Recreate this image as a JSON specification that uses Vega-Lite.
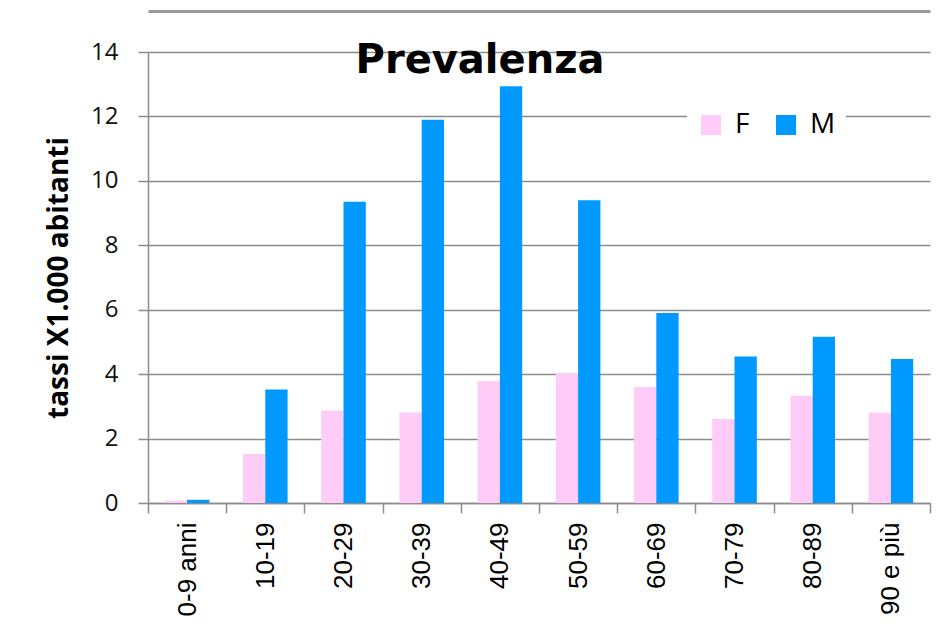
{
  "$schema": "https://vega.github.io/schema/vega-lite/v6.json",
  "autosize": {"type": "none"},
  "width": 782,
  "height": 451,
  "padding": {"left": 148, "top": 52, "right": 16, "bottom": 129},
  "background": "white",
  "title": {
    "text": "Prevalenza",
    "font": "DejaVu Sans",
    "fontSize": 40,
    "fontWeight": "bold",
    "color": "#000000",
    "anchor": "middle",
    "baseline": "alphabetic",
    "dx": -59,
    "dy": 45,
    "offset": -104
  },
  "data": {
    "values": [
      {"eta": "0-9 anni", "sesso": "F", "valore": 0.07},
      {"eta": "0-9 anni", "sesso": "M", "valore": 0.1},
      {"eta": "10-19", "sesso": "F", "valore": 1.52},
      {"eta": "10-19", "sesso": "M", "valore": 3.52},
      {"eta": "20-29", "sesso": "F", "valore": 2.87},
      {"eta": "20-29", "sesso": "M", "valore": 9.35},
      {"eta": "30-39", "sesso": "F", "valore": 2.81},
      {"eta": "30-39", "sesso": "M", "valore": 11.9},
      {"eta": "40-49", "sesso": "F", "valore": 3.78},
      {"eta": "40-49", "sesso": "M", "valore": 12.94},
      {"eta": "50-59", "sesso": "F", "valore": 4.03},
      {"eta": "50-59", "sesso": "M", "valore": 9.4},
      {"eta": "60-69", "sesso": "F", "valore": 3.6},
      {"eta": "60-69", "sesso": "M", "valore": 5.9},
      {"eta": "70-79", "sesso": "F", "valore": 2.61},
      {"eta": "70-79", "sesso": "M", "valore": 4.55},
      {"eta": "80-89", "sesso": "F", "valore": 3.33},
      {"eta": "80-89", "sesso": "M", "valore": 5.16},
      {"eta": "90 e più", "sesso": "F", "valore": 2.8},
      {"eta": "90 e più", "sesso": "M", "valore": 4.47}
    ]
  },
  "layer": [
    {
      "mark": {"type": "bar", "strokeWidth": 0},
      "encoding": {
        "x": {
          "field": "eta",
          "type": "nominal",
          "sort": null,
          "scale": {"paddingInner": 0, "paddingOuter": 0},
          "axis": {
            "title": null,
            "labelAngle": -90,
            "labelAlign": "right",
            "labelBaseline": "middle",
            "labelFont": "Liberation Sans",
            "labelFontSize": 26,
            "labelColor": "#000000",
            "labelPadding": 9,
            "tickBand": "extent",
            "tickSize": 10,
            "tickWidth": 1.5,
            "tickColor": "#8c8c8c",
            "domainColor": "#8c8c8c",
            "domainWidth": 1.5,
            "grid": false
          }
        },
        "xOffset": {
          "field": "sesso",
          "type": "nominal",
          "scale": {"paddingInner": 0, "paddingOuter": 0.753}
        },
        "y": {
          "field": "valore",
          "type": "quantitative",
          "scale": {"domain": [0, 14], "nice": false},
          "axis": {
            "values": [0, 2, 4, 6, 8, 10, 12, 14],
            "title": "tassi X1.000 abitanti",
            "titleFont": "Open Sans",
            "titleFontSize": 28,
            "titleFontWeight": "bold",
            "titleColor": "#000000",
            "titleAngle": 270,
            "titleBaseline": "alphabetic",
            "titleAlign": "center",
            "titleX": -81,
            "titleY": 225.5,
            "labelFont": "Open Sans",
            "labelFontSize": 24,
            "labelColor": "#111111",
            "labelPadding": 20,
            "tickSize": 10,
            "tickWidth": 1.5,
            "tickColor": "#8c8c8c",
            "domainColor": "#8c8c8c",
            "domainWidth": 1.5,
            "grid": true,
            "gridColor": "#8c8c8c",
            "gridWidth": 1.5
          }
        },
        "color": {
          "field": "sesso",
          "type": "nominal",
          "scale": {"domain": ["F", "M"], "range": ["#FFCCF7", "#0099FF"]},
          "legend": {
            "title": null,
            "orient": "none",
            "direction": "horizontal",
            "legendX": 539,
            "legendY": 49,
            "symbolType": "square",
            "symbolSize": 400,
            "symbolStrokeWidth": 0,
            "labelFont": "Open Sans",
            "labelFontSize": 28,
            "labelColor": "#000000",
            "labelOffset": 10,
            "columnPadding": 22,
            "padding": 10,
            "fillColor": "white"
          }
        }
      }
    },
    {
      "mark": {"type": "bar", "opacity": 0},
      "encoding": {
        "x": {
          "field": "eta",
          "type": "nominal",
          "sort": null,
          "axis": {
            "orient": "top",
            "offset": 41,
            "title": null,
            "labels": false,
            "ticks": false,
            "grid": false,
            "domainColor": "#9a9a9a",
            "domainWidth": 3
          }
        },
        "y": {"field": "valore", "type": "quantitative"}
      }
    }
  ],
  "resolve": {"axis": {"x": "independent"}},
  "config": {
    "view": {"stroke": null}
  }
}
